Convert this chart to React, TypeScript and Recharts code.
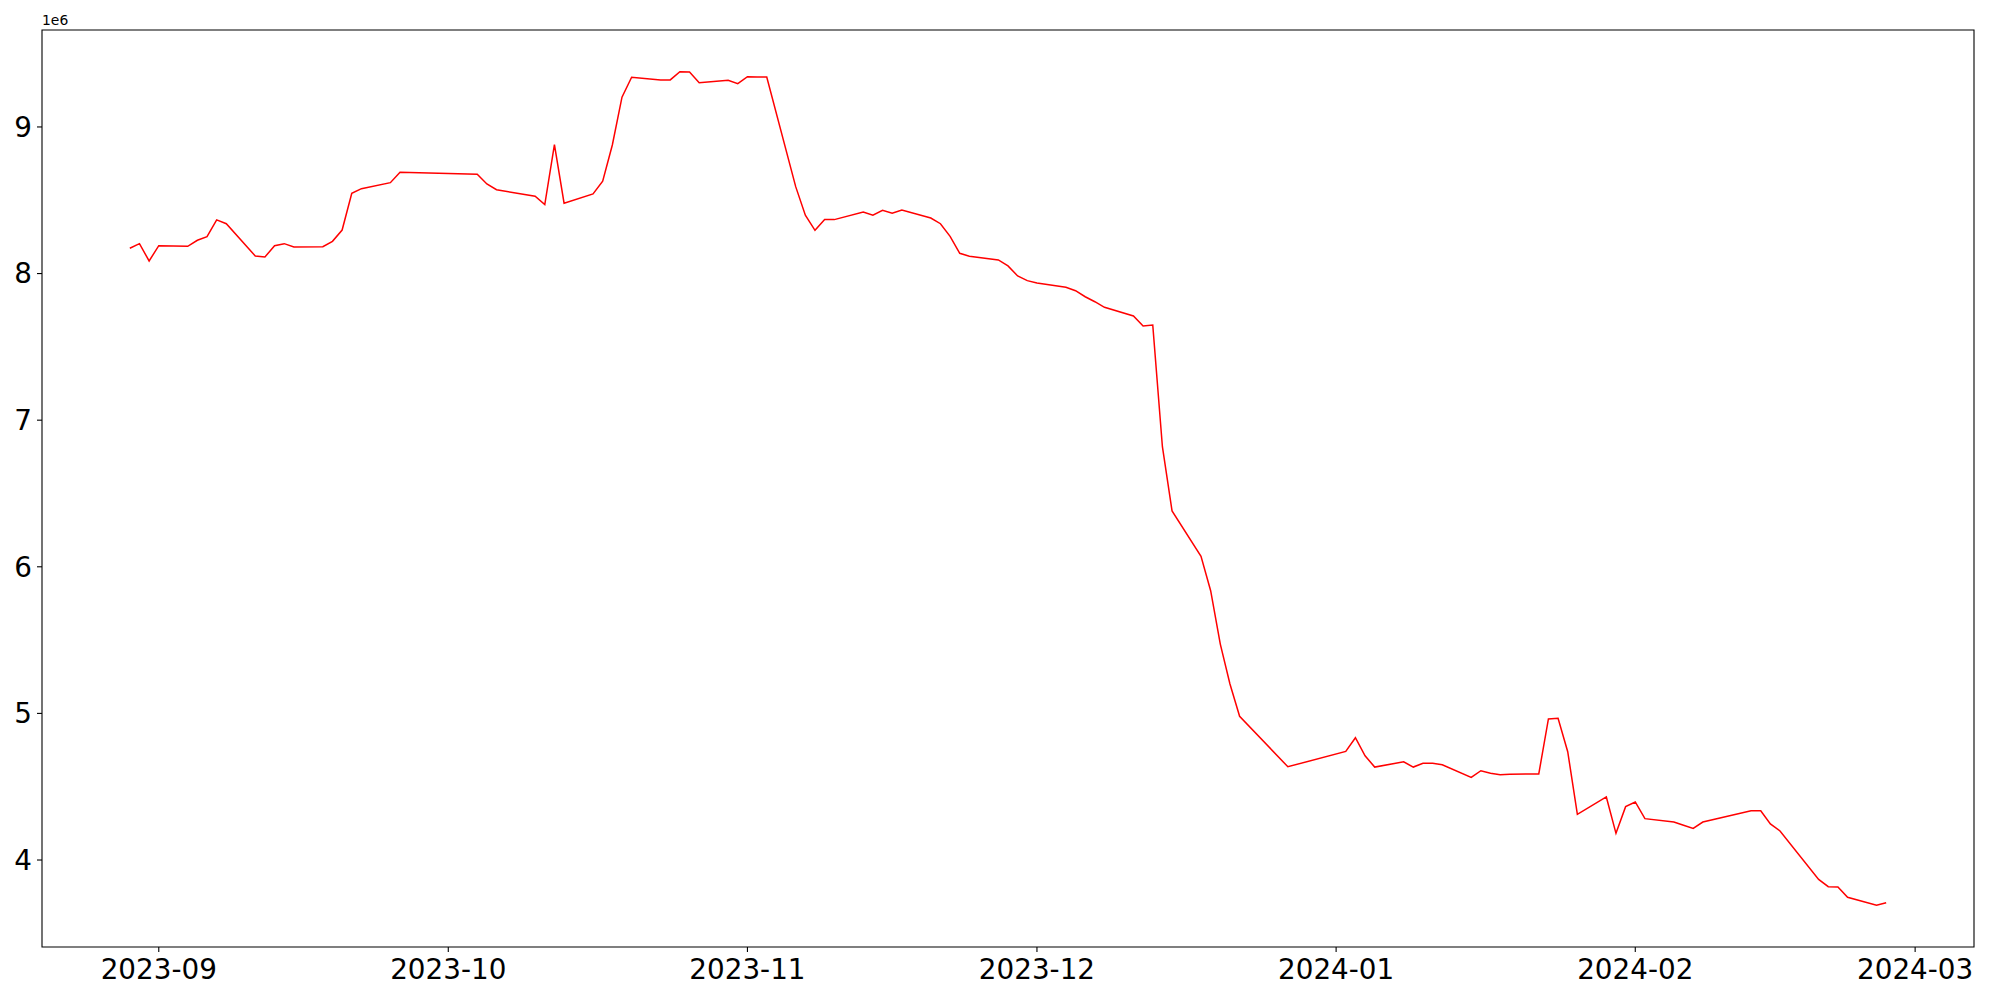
import React from "react";
import { LineChart, Line, XAxis, YAxis, ReferenceArea } from "recharts";

// trading days and values
const dates = [
  "2023-08-29", "2023-08-30", "2023-08-31", "2023-09-01", "2023-09-04", "2023-09-05",
  "2023-09-06", "2023-09-07", "2023-09-08", "2023-09-11", "2023-09-12", "2023-09-13",
  "2023-09-14", "2023-09-15", "2023-09-18", "2023-09-19", "2023-09-20", "2023-09-21",
  "2023-09-22", "2023-09-25", "2023-09-26", "2023-10-04", "2023-10-05", "2023-10-06",
  "2023-10-10", "2023-10-11", "2023-10-12", "2023-10-13", "2023-10-16", "2023-10-17",
  "2023-10-18", "2023-10-19", "2023-10-20", "2023-10-23", "2023-10-24", "2023-10-25",
  "2023-10-26", "2023-10-27", "2023-10-30", "2023-10-31", "2023-11-01", "2023-11-02",
  "2023-11-03", "2023-11-06", "2023-11-07", "2023-11-08", "2023-11-09", "2023-11-10",
  "2023-11-13", "2023-11-14", "2023-11-15", "2023-11-16", "2023-11-17", "2023-11-20",
  "2023-11-21", "2023-11-22", "2023-11-23", "2023-11-24", "2023-11-27", "2023-11-28",
  "2023-11-29", "2023-11-30", "2023-12-01", "2023-12-04", "2023-12-05", "2023-12-06",
  "2023-12-07", "2023-12-08", "2023-12-11", "2023-12-12", "2023-12-13", "2023-12-14",
  "2023-12-15", "2023-12-18", "2023-12-19", "2023-12-20", "2023-12-21", "2023-12-22",
  "2023-12-27", "2024-01-02", "2024-01-03", "2024-01-04", "2024-01-05", "2024-01-08",
  "2024-01-09", "2024-01-10", "2024-01-11", "2024-01-12", "2024-01-15", "2024-01-16",
  "2024-01-17", "2024-01-18", "2024-01-19", "2024-01-22", "2024-01-23", "2024-01-24",
  "2024-01-25", "2024-01-26", "2024-01-29", "2024-01-30", "2024-01-31", "2024-02-01",
  "2024-02-02", "2024-02-05", "2024-02-06", "2024-02-07", "2024-02-08", "2024-02-13",
  "2024-02-14", "2024-02-15", "2024-02-16", "2024-02-20", "2024-02-21", "2024-02-22",
  "2024-02-23", "2024-02-26", "2024-02-27",
];

const values = [
  8173000, 8204000, 8086000, 8190000, 8186000, 8227000,
  8252000, 8366000, 8340000, 8120000, 8113000, 8190000,
  8204000, 8181000, 8183000, 8220000, 8297000, 8548000,
  8579000, 8620000, 8691000, 8677000, 8611000, 8572000,
  8527000, 8470000, 8879000, 8480000, 8543000, 8630000,
  8877000, 9203000, 9339000, 9321000, 9321000, 9377000,
  9375000, 9302000, 9319000, 9295000, 9343000, 9341000,
  9341000, 8593000, 8398000, 8295000, 8368000, 8368000,
  8420000, 8398000, 8432000, 8411000, 8434000, 8379000,
  8340000, 8254000, 8138000, 8118000, 8093000, 8052000,
  7984000, 7952000, 7936000, 7907000, 7883000, 7842000,
  7808000, 7770000, 7711000, 7643000, 7649000, 6819000,
  6381000, 6072000, 5837000, 5473000, 5201000, 4980000,
  4636000, 4741000, 4834000, 4711000, 4634000, 4670000,
  4634000, 4660000, 4660000, 4650000, 4564000, 4609000,
  4592000, 4582000, 4585000, 4587000, 4962000, 4967000,
  4739000, 4312000, 4430000, 4182000, 4364000, 4396000,
  4282000, 4259000, 4237000, 4216000, 4259000, 4336000,
  4336000, 4246000, 4198000, 3868000, 3818000, 3816000,
  3746000, 3691000, 3709000,
];

const monthTicks = ["2023-09", "2023-10", "2023-11", "2023-12", "2024-01", "2024-02", "2024-03"];
const yTicks = [4000000, 5000000, 6000000, 7000000, 8000000, 9000000];

const toUTC = (s: string) => {
  const [y, m, d] = s.split("-").map(Number);
  return Date.UTC(y, m - 1, d ?? 1);
};

const data = dates.map((d, i) => ({ t: toUTC(d), value: values[i] }));

// matplotlib-style 5% margins
const pad = (lo: number, hi: number) => [lo - (hi - lo) * 0.05, hi + (hi - lo) * 0.05];
const xDomain = pad(data[0].t, data[data.length - 1].t);
const yDomain = pad(Math.min(...values), Math.max(...values));

const font = "'DejaVu Sans', sans-serif";
const tickStyle = { fontSize: 27.8, fill: "#000", fontFamily: font };

const fmtMonth = (t: number) => {
  const d = new Date(t);
  return `${d.getUTCFullYear()}-${String(d.getUTCMonth() + 1).padStart(2, "0")}`;
};

export default function App() {
  return (
    <div style={{ position: "absolute", left: 0, top: 0, width: 2000, height: 1000, background: "#fff" }}>
      <LineChart width={2000} height={1000} data={data} margin={{ top: 30, right: 26, bottom: 0, left: 0 }}>
        <XAxis
          dataKey="t"
          type="number"
          scale="time"
          domain={xDomain}
          allowDataOverflow
          ticks={monthTicks.map(toUTC)}
          tickFormatter={fmtMonth}
          height={53}
          axisLine={false}
          tickSize={5}
          tickMargin={7}
          tickLine={{ stroke: "#000", strokeWidth: 1.1 }}
          tick={tickStyle}
          interval={0}
        />
        <YAxis
          type="number"
          domain={yDomain}
          allowDataOverflow
          ticks={yTicks}
          tickFormatter={(v) => String(Math.round(v / 1e6))}
          width={42}
          axisLine={false}
          tickSize={5}
          tickMargin={5}
          tickLine={{ stroke: "#000", strokeWidth: 1.1 }}
          tick={tickStyle}
          interval={0}
        />
        <ReferenceArea
          x1={xDomain[0]}
          x2={xDomain[1]}
          y1={yDomain[0]}
          y2={yDomain[1]}
          fill="none"
          fillOpacity={0}
          stroke="#000"
          strokeWidth={1.1}
          ifOverflow="visible"
        />
        <Line
          type="linear"
          dataKey="value"
          stroke="#ff0000"
          strokeWidth={1.5}
          dot={false}
          activeDot={false}
          isAnimationActive={false}
        />
      </LineChart>
      <div
        style={{
          position: "absolute",
          left: 42,
          top: 14,
          fontFamily: font,
          fontSize: 13.9,
          lineHeight: 1,
          color: "#000",
        }}
      >
        1e6
      </div>
    </div>
  );
}
